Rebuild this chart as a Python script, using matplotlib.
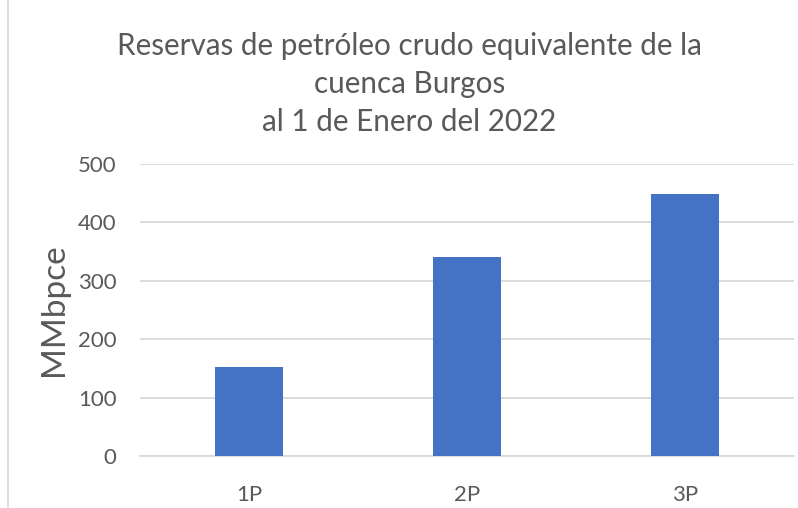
import matplotlib.pyplot as plt
from matplotlib.lines import Line2D

# --- data ---
categories = ["1P", "2P", "3P"]
reserves = [152, 340, 448]  # MMbpce
y_ticks = [0, 100, 200, 300, 400, 500]

BAR_COLOR = "#4472C4"
TEXT_COLOR = "#595959"
GRID_COLOR = "#D9D9D9"

plt.rcParams["font.family"] = ["Lato", "DejaVu Sans"]

fig = plt.figure(figsize=(7.98, 5.08), dpi=100)
W, H = 798, 508
ax = fig.add_axes([140 / W, 1 - 456 / H, (794 - 140) / W, (456 - 164) / H])

x = range(len(categories))
ax.bar(x, reserves, width=0.31, color=BAR_COLOR, zorder=3)

ax.set_xlim(-0.5, len(categories) - 0.5)
ax.set_ylim(0, 500)
ax.set_yticks(y_ticks)
ax.set_xticks(list(x))
ax.set_xticklabels(categories)
ax.tick_params(axis="both", length=0, labelsize=16, colors=TEXT_COLOR)
ax.tick_params(axis="y", pad=17)
ax.tick_params(axis="x", pad=21)
ax.grid(axis="y", color=GRID_COLOR, lw=1.3, zorder=0)
for sp in ["top", "right", "left"]:
    ax.spines[sp].set_visible(False)
ax.spines["bottom"].set_color(GRID_COLOR)
ax.spines["bottom"].set_linewidth(1.3)

ax.set_ylabel("MMbpce", fontsize=24, color=TEXT_COLOR, labelpad=6)

fig.text(0.513, 1 - 84 / H,
         "Reservas de petróleo crudo equivalente de la\ncuenca Burgos\nal 1 de Enero del 2022",
         ha="center", va="center", fontsize=21.3, color=TEXT_COLOR, linespacing=1.45)

# chart frame edge visible on the left
fig.add_artist(Line2D([8 / W, 8 / W], [0, 1], transform=fig.transFigure,
                      color=GRID_COLOR, lw=1.2))

fig.savefig("out.png", dpi=100, facecolor="white")
